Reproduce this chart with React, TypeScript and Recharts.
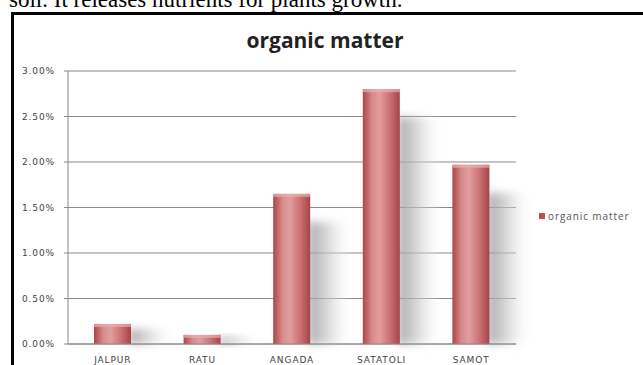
import React from "react";
import { BarChart, Bar, XAxis, YAxis, CartesianGrid } from "recharts";

// Organic matter content (%) by sampling site
const sites = ["JALPUR", "RATU", "ANGADA", "SATATOLI", "SAMOT"];
const organicMatter = [0.22, 0.1, 1.65, 2.8, 1.97];
const yTicks = [0, 0.5, 1, 1.5, 2, 2.5, 3];
const seriesName = "organic matter";

const data = sites.map((site, i) => ({ site, value: organicMatter[i] }));

const W = 643;
const H = 365;

// Rounded "cylinder" bar with a soft grey shadow on its right side
const CylinderBar = (props: any) => {
  const { x, y, width, height, index } = props;
  if (!height || height <= 0) return null;
  const gid = `barGrad${index}`;
  const sid = `shadowGrad${index}`;
  const fid = `shadowBlur${index}`;
  const shadowTop = y + Math.min(28, height * 0.25);
  const shadowH = Math.max(0, y + height - shadowTop);
  return (
    <g>
      <defs>
        <linearGradient id={gid} x1="0" y1="0" x2="1" y2="0">
          <stop offset="0%" stopColor="#ad4548" />
          <stop offset="25%" stopColor="#d88a8b" />
          <stop offset="45%" stopColor="#e29e9f" />
          <stop offset="75%" stopColor="#c96e70" />
          <stop offset="100%" stopColor="#a54248" />
        </linearGradient>
        <linearGradient id={sid} x1="0" y1="0" x2="1" y2="0">
          <stop offset="0%" stopColor="#9c9c9c" stopOpacity={0.9} />
          <stop offset="45%" stopColor="#c6c6c6" stopOpacity={0.65} />
          <stop offset="100%" stopColor="#ffffff" stopOpacity={0} />
        </linearGradient>
        <filter id={fid} x="-50%" y="-50%" width="200%" height="200%">
          <feGaussianBlur stdDeviation="4" />
        </filter>
      </defs>
      {shadowH > 0 && (
        <rect
          x={x + width - 2}
          y={shadowTop}
          width={width * 1.2}
          height={shadowH}
          fill={`url(#${sid})`}
          filter={`url(#${fid})`}
        />
      )}
      <rect x={x} y={y} width={width} height={height} fill={`url(#${gid})`} />
      <rect x={x} y={y} width={width} height={Math.min(3, height)} fill="#e8b0b0" opacity={0.7} />
    </g>
  );
};

export default function App() {
  return (
    <div style={{ position: "absolute", left: 0, top: 0, width: W, height: H, overflow: "hidden", background: "#fff" }}>
      <div
        style={{
          position: "absolute",
          left: 9,
          top: -13,
          fontFamily: "'Liberation Serif', serif",
          fontSize: 23,
          whiteSpace: "nowrap",
          color: "#000",
        }}
      >
        soil. It releases nutrients for plants growth.
      </div>
      <div
        style={{
          position: "absolute",
          left: 11,
          top: 12,
          width: 640,
          height: 360,
          border: "3px solid #000",
          boxSizing: "border-box",
        }}
      />
      <div
        style={{
          position: "absolute",
          left: 200,
          width: 250,
          top: 26,
          textAlign: "center",
          fontFamily: "'Open Sans', sans-serif",
          fontWeight: 700,
          fontSize: 21,
          color: "#222",
        }}
      >
        organic matter
      </div>
      <div
        style={{
          position: "absolute",
          left: 539,
          top: 209,
          display: "flex",
          alignItems: "center",
          fontFamily: "'Open Sans', sans-serif",
          fontSize: 10,
          color: "#555",
          letterSpacing: 0.9,
          whiteSpace: "nowrap",
        }}
      >
        <span style={{ display: "inline-block", width: 6, height: 6, background: "#c0504d", marginRight: 3 }} />
        {seriesName}
      </div>
      <div style={{ position: "absolute", left: 0, top: 0 }}>
        <BarChart width={W} height={H} data={data} margin={{ top: 71, right: 127, bottom: 0, left: 0 }}>
          <CartesianGrid vertical={false} stroke="#8a8a8a" strokeWidth={1.2} />
          <XAxis
            dataKey="site"
            height={21}
            tickLine={false}
            axisLine={{ stroke: "#8a8a8a" }}
            tickMargin={7}
            interval={0}
            tick={{ fontSize: 9, fill: "#444", fontFamily: "'DejaVu Sans', sans-serif", letterSpacing: 0.9 }}
          />
          <YAxis
            width={68}
            domain={[0, 3]}
            ticks={yTicks}
            tickFormatter={(v: number) => `${v.toFixed(2)}%`}
            tickSize={4}
            tickMargin={9}
            tickLine={{ stroke: "#8a8a8a" }}
            axisLine={{ stroke: "#8a8a8a" }}
            tick={{ fontSize: 9, fill: "#444", fontFamily: "'DejaVu Sans', sans-serif", letterSpacing: 0.9 }}
          />
          <Bar dataKey="value" name={seriesName} barSize={37} shape={<CylinderBar />} isAnimationActive={false} />
        </BarChart>
      </div>
    </div>
  );
}
